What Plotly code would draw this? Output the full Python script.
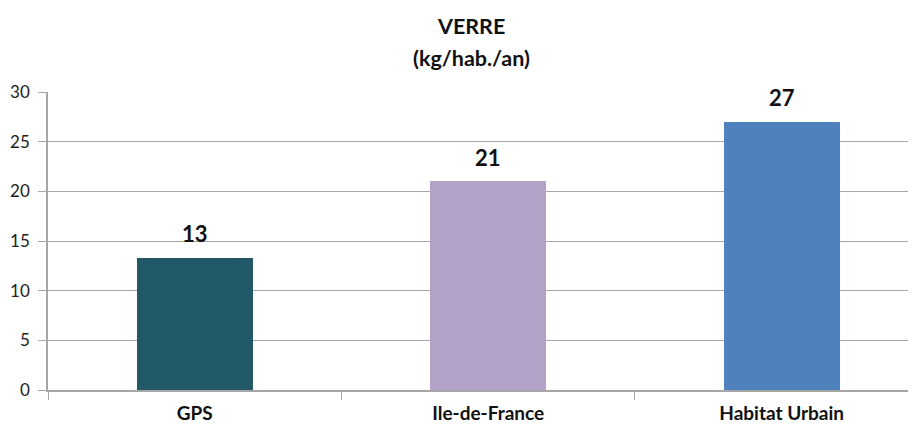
import plotly.graph_objects as go

categories = ["GPS", "Ile-de-France", "Habitat Urbain"]
values = [13.3, 21.0, 27.0]
labels = ["13", "21", "27"]
colors = ["#215968", "#B3A2C7", "#4F81BD"]
y_ticks = [0, 5, 10, 15, 20, 25, 30]

fig = go.Figure()
fig.add_trace(go.Bar(
    x=categories, y=values, marker=dict(color=colors, line=dict(width=0)),
    width=0.395, hoverinfo="skip", showlegend=False,
))

for c, v, t in zip(categories, values, labels):
    fig.add_annotation(x=c, y=v, text="<b>%s</b>" % t, showarrow=False,
                       yanchor="middle", yshift=24,
                       font=dict(family="Lato", size=22, color="#111"))

tx = (471 - 48) / 876
fig.add_annotation(xref="paper", yref="paper", x=tx, y=1,
                   yanchor="middle", yshift=66, showarrow=False,
                   text="<b>VERRE</b>", font=dict(family="Lato", size=21.5, color="#111"))
fig.add_annotation(xref="paper", yref="paper", x=tx, y=1,
                   yanchor="middle", yshift=34, showarrow=False,
                   text="<b>(kg/hab./an)</b>", font=dict(family="Lato", size=21.5, color="#111"))

fig.update_layout(
    width=916, height=425,
    margin=dict(l=40, r=0, t=84, b=43),
    paper_bgcolor="white", plot_bgcolor="white",
    font=dict(family="Lato", color="#222"),
    bargap=0,
)
fig.update_xaxes(
    type="category", range=[-0.5, 2.485], automargin=False,
    showline=True, linecolor="#a6a6a6", linewidth=1.5,
    ticks="outside", tickson="boundaries", ticklen=8, tickcolor="#a6a6a6",
    ticklabelstandoff=5,
    tickfont=dict(family="Lato", size=19, color="#111", weight="bold"),
    showgrid=False,
)
fig.update_yaxes(
    range=[0, 30], tickvals=y_ticks, automargin=False,
    showline=True, linecolor="#a6a6a6", linewidth=1.5,
    ticks="outside", ticklen=8, tickcolor="#a6a6a6", ticklabelstandoff=5,
    tickfont=dict(family="Lato", size=17, color="#222"),
    showgrid=True, gridcolor="#a6a6a6", gridwidth=1, zeroline=False,
)

fig.write_html("out.html")
